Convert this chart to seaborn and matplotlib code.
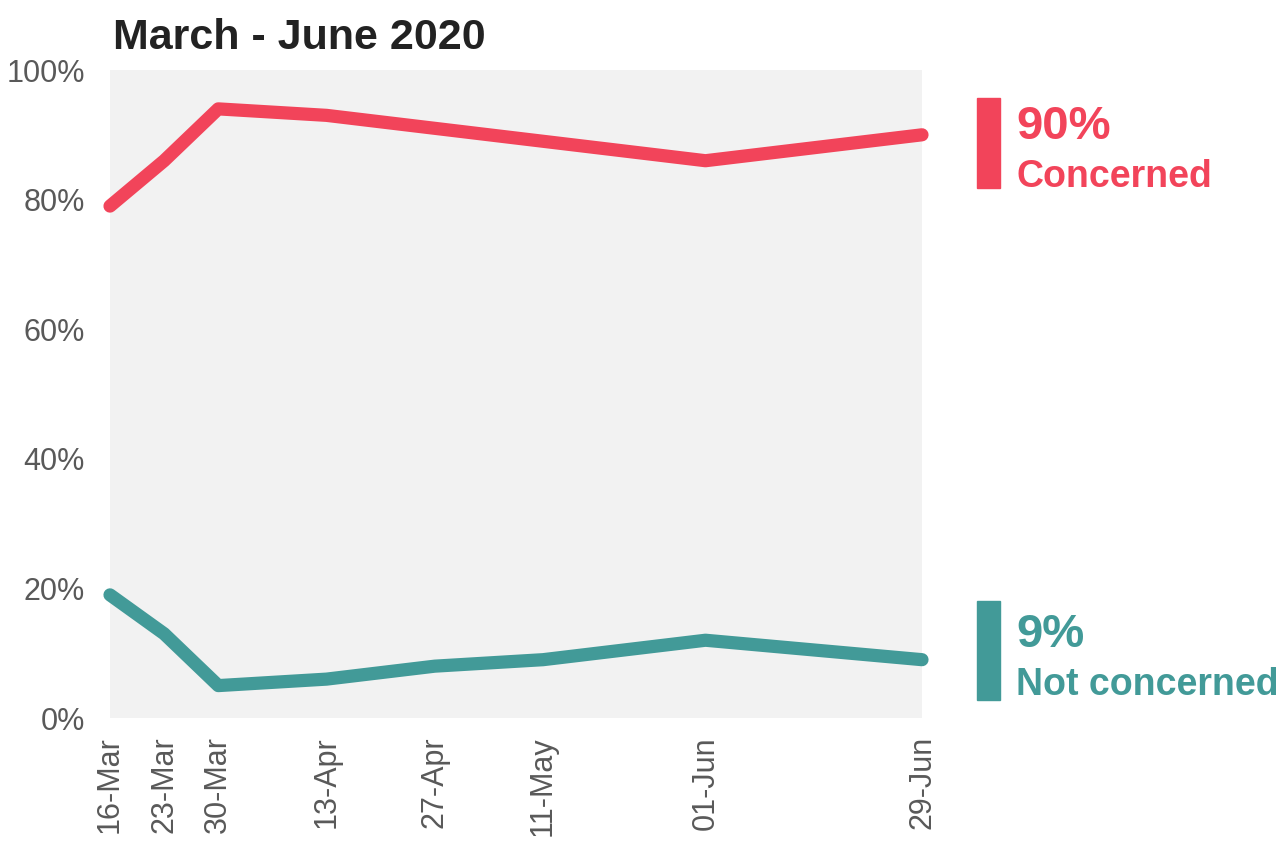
import pandas as pd
import seaborn as sns
import matplotlib.pyplot as plt
import matplotlib.dates as mdates
from matplotlib.ticker import FixedLocator, PercentFormatter

dates = ["2020-03-16", "2020-03-23", "2020-03-30", "2020-04-13",
         "2020-04-27", "2020-05-11", "2020-06-01", "2020-06-29"]
concerned = [79, 86, 94, 93, 91, 89, 86, 90]
not_concerned = [19, 13, 5, 6, 8, 9, 12, 9]

RED = "#F2445A"
TEAL = "#429A98"

sns.set_style("white")
plt.rcParams["font.family"] = ["Liberation Sans", "DejaVu Sans"]

df = pd.DataFrame({"date": pd.to_datetime(dates),
                   "Concerned": concerned,
                   "Not concerned": not_concerned})
long = df.melt(id_vars="date", var_name="group", value_name="pct")

fig = plt.figure(figsize=(12.76, 8.42), dpi=100)
ax = fig.add_axes([110 / 1276, 1 - 718 / 842, 812 / 1276, 648 / 842])
ax.set_facecolor("#F2F2F2")

sns.lineplot(data=long, x="date", y="pct", hue="group",
             palette={"Concerned": RED, "Not concerned": TEAL},
             linewidth=9.5, legend=False, ax=ax)
for line in ax.lines:
    line.set_solid_capstyle("round")
    line.set_solid_joinstyle("round")
    line.set_clip_on(False)

ax.set_xlim(df["date"].min(), df["date"].max())
ax.set_ylim(0, 100)
ax.xaxis.set_major_locator(FixedLocator(mdates.date2num(df["date"])))
ax.xaxis.set_major_formatter(mdates.DateFormatter("%d-%b"))
ax.yaxis.set_major_locator(FixedLocator([0, 20, 40, 60, 80, 100]))
ax.yaxis.set_major_formatter(PercentFormatter(decimals=0))
ax.tick_params(axis="both", length=0, labelsize=22, labelcolor="#595959")
ax.tick_params(axis="x", pad=13)
ax.tick_params(axis="y", pad=18)
plt.setp(ax.get_xticklabels(), rotation=90)
ax.set_xlabel("")
ax.set_ylabel("")
sns.despine(ax=ax, left=True, bottom=True)

fig.text(113 / 1276, 1 - 38 / 842, "March - June 2020", fontsize=31,
         fontweight="bold", color="#222222", va="center", ha="left")

# right-hand labels
fig.patches.append(plt.Rectangle((977 / 1276, 1 - 188 / 842), 23 / 1276, 90 / 842,
                                 transform=fig.transFigure, color=RED))
fig.patches.append(plt.Rectangle((977 / 1276, 1 - 700 / 842), 23 / 1276, 99 / 842,
                                 transform=fig.transFigure, color=TEAL))
fig.text(1016 / 1276, 1 - 127 / 842, f"{concerned[-1]}%", fontsize=34,
         fontweight="bold", color=RED, va="center")
fig.text(1016 / 1276, 1 - 177 / 842, "Concerned", fontsize=27,
         fontweight="bold", color=RED, va="center")
fig.text(1016 / 1276, 1 - 635 / 842, f"{not_concerned[-1]}%", fontsize=34,
         fontweight="bold", color=TEAL, va="center")
fig.text(1016 / 1276, 1 - 685 / 842, "Not concerned", fontsize=27,
         fontweight="bold", color=TEAL, va="center")

fig.savefig("out.png", dpi=100)
